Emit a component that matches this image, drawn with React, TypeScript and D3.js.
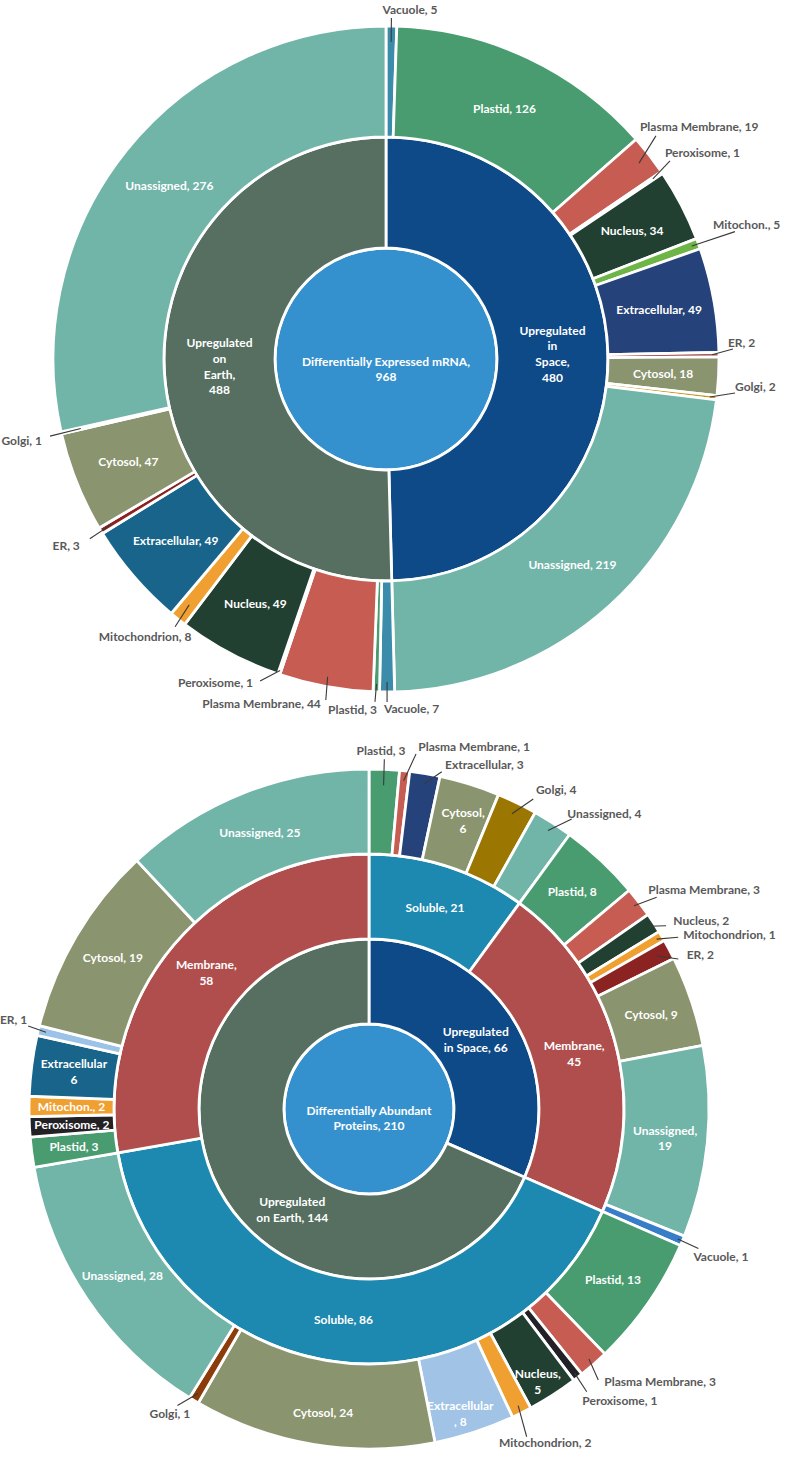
import React from "react";
import * as d3 from "d3";

// ================= Chart 1: Differentially Expressed mRNA =================
const mrnaRootName = "Differentially Expressed mRNA";
const mrnaRootTotal = 968;
const mrnaGroupNames = ["Upregulated in Space", "Upregulated on Earth"];
const mrnaGroupTotals = [480, 488];
const mrnaSpaceLocations = ["Vacuole", "Plastid", "Plasma Membrane", "Peroxisome", "Nucleus", "Mitochon.", "Extracellular", "ER", "Cytosol", "Golgi", "Unassigned"];
const mrnaSpaceCounts = [5, 126, 19, 1, 34, 5, 49, 2, 18, 2, 219];
const mrnaEarthLocations = ["Vacuole", "Plastid", "Plasma Membrane", "Peroxisome", "Nucleus", "Mitochondrion", "Extracellular", "ER", "Cytosol", "Golgi", "Unassigned"];
const mrnaEarthCounts = [7, 3, 44, 1, 49, 8, 49, 3, 47, 1, 276];

// ================= Chart 2: Differentially Abundant Proteins =================
const protRootName = "Differentially Abundant Proteins";
const protRootTotal = 210;
const protGroupNames = ["Upregulated in Space", "Upregulated on Earth"];
const protGroupTotals = [66, 144];
const protFractionNames = ["Soluble", "Membrane"];
const protSpaceFractionTotals = [21, 45];
const protEarthFractionTotals = [86, 58];
const protSpaceSolubleLocations = ["Plastid", "Plasma Membrane", "Extracellular", "Cytosol", "Golgi", "Unassigned"];
const protSpaceSolubleCounts = [3, 1, 3, 6, 4, 4];
const protSpaceMembraneLocations = ["Plastid", "Plasma Membrane", "Nucleus", "Mitochondrion", "ER", "Cytosol", "Unassigned", "Vacuole"];
const protSpaceMembraneCounts = [8, 3, 2, 1, 2, 9, 19, 1];
const protEarthSolubleLocations = ["Plastid", "Plasma Membrane", "Peroxisome", "Nucleus", "Mitochondrion", "Extracellular", "Cytosol", "Golgi", "Unassigned"];
const protEarthSolubleCounts = [13, 3, 1, 5, 2, 8, 24, 1, 28];
const protEarthMembraneLocations = ["Plastid", "Peroxisome", "Mitochon.", "Extracellular", "ER", "Cytosol", "Unassigned"];
const protEarthMembraneCounts = [3, 2, 2, 6, 1, 19, 25];

// ================= hierarchy construction =================
type TreeNode = { key: string; name: string; shown: number; count?: number; children?: TreeNode[] };

const leafNodes = (prefix: string, names: string[], counts: number[]): TreeNode[] =>
  names.map((n, i) => ({ key: `${prefix}/${n}`, name: n, shown: counts[i], count: counts[i] }));

const groupCodes = ["S", "E"];

const mrnaTree: TreeNode = {
  key: "mrna",
  name: mrnaRootName,
  shown: mrnaRootTotal,
  children: [
    { key: "mrna/S", name: mrnaGroupNames[0], shown: mrnaGroupTotals[0], children: leafNodes("mrna/S", mrnaSpaceLocations, mrnaSpaceCounts) },
    { key: "mrna/E", name: mrnaGroupNames[1], shown: mrnaGroupTotals[1], children: leafNodes("mrna/E", mrnaEarthLocations, mrnaEarthCounts) },
  ],
};

const protLeaves = [
  [
    [protSpaceSolubleLocations, protSpaceSolubleCounts],
    [protSpaceMembraneLocations, protSpaceMembraneCounts],
  ],
  [
    [protEarthSolubleLocations, protEarthSolubleCounts],
    [protEarthMembraneLocations, protEarthMembraneCounts],
  ],
] as [string[], number[]][][];
const protFractionTotals = [protSpaceFractionTotals, protEarthFractionTotals];

const protTree: TreeNode = {
  key: "prot",
  name: protRootName,
  shown: protRootTotal,
  children: protGroupNames.map((g, gi) => ({
    key: `prot/${groupCodes[gi]}`,
    name: g,
    shown: protGroupTotals[gi],
    children: protFractionNames.map((f, fi) => {
      const k = `prot/${groupCodes[gi]}/${f}`;
      const [locs, counts] = protLeaves[gi][fi];
      return { key: k, name: f, shown: protFractionTotals[gi][fi], children: leafNodes(k, locs, counts) };
    }),
  })),
};

// ================= styles =================
const nodeFill: Record<string, string> = {
  root: "#3591CD",
  "Upregulated in Space": "#0E4988",
  "Upregulated on Earth": "#566F60",
  Soluble: "#1D88B0",
  Membrane: "#B04E4E",
  Vacuole: "#3A8CAA",
  Plastid: "#489C6F",
  "Plasma Membrane": "#C65C52",
  Peroxisome: "#222126",
  Nucleus: "#224032",
  Mitochondrion: "#F0A030",
  "Mitochon.": "#F0A030",
  Extracellular: "#25437A",
  ER: "#8C2323",
  Cytosol: "#8A946E",
  Golgi: "#9B7600",
  Unassigned: "#71B4A8",
};
const fillOverride: Record<string, string> = {
  "mrna/S/Mitochon.": "#6EB446",
  "mrna/S/Golgi": "#C8961E",
  "mrna/E/Extracellular": "#18648A",
  "prot/S/Membrane/Vacuole": "#377DC8",
  "prot/E/Soluble/Extracellular": "#A0C3E6",
  "prot/E/Soluble/Golgi": "#8C3C0A",
  "prot/E/Membrane/ER": "#9CC2E8",
  "prot/E/Membrane/Extracellular": "#18648A",
};

type Wrap = "comma" | "words" | "first" | "two" | "pre" | "bare";
type Ext = { inset: number; lead: [number, number]; text: [number, number]; anchor: "start" | "middle" | "end" };
type Lay = { wrap?: Wrap; nudge?: [number, number]; ext?: Ext };

const labelLayout: Record<string, Lay> = {
  // chart 1
  mrna: { wrap: "comma", nudge: [0, 10] },
  "mrna/S": { wrap: "words", nudge: [0, -3] },
  "mrna/E": { wrap: "words", nudge: [0, 5] },
  "mrna/S/Vacuole": { ext: { inset: 16, lead: [0, -8], text: [18.6, -12.5], anchor: "middle" } },
  "mrna/S/Plasma Membrane": { ext: { inset: 13, lead: [6.6, -19.3], text: [-9.4, -23.8], anchor: "start" } },
  "mrna/S/Peroxisome": { ext: { inset: 11, lead: [8, -11.7], text: [3, -15.7], anchor: "start" } },
  "mrna/S/Mitochon.": { ext: { inset: 7, lead: [36.6, -12], text: [14.6, -14.7], anchor: "start" } },
  "mrna/S/ER": { ext: { inset: 7, lead: [14, -5.7], text: [9, -7.7], anchor: "start" } },
  "mrna/S/Golgi": { ext: { inset: 7, lead: [18.3, -4.9], text: [18.3, -6.9], anchor: "start" } },
  "mrna/E/Vacuole": { ext: { inset: 10, lead: [0, 10], text: [-3, 21], anchor: "start" } },
  "mrna/E/Plastid": { ext: { inset: 8, lead: [-1.3, 10], text: [0.7, 22], anchor: "end" } },
  "mrna/E/Plasma Membrane": { ext: { inset: 10, lead: [0, 13.5], text: [-5, 21.5], anchor: "end" } },
  "mrna/E/Peroxisome": { ext: { inset: 4, lead: [-18.7, 6.8], text: [-25.7, 12.8], anchor: "end" } },
  "mrna/E/Mitochondrion": { ext: { inset: 18, lead: [-2.8, 7.8], text: [-32.8, 22], anchor: "middle" } },
  "mrna/E/ER": { ext: { inset: 12, lead: [-10.9, 8], text: [-20.9, 19.7], anchor: "end" } },
  "mrna/E/Golgi": { ext: { inset: 20, lead: [-11.3, 3.2], text: [-19.3, 12.2], anchor: "end" } },
  // chart 2
  prot: { wrap: "two", nudge: [0, 9] },
  "prot/S": { wrap: "first" },
  "prot/E": { wrap: "first", nudge: [30, 31] },
  "prot/S/Membrane": { wrap: "comma" },
  "prot/E/Membrane": { wrap: "comma" },
  "prot/S/Soluble/Plastid": { ext: { inset: 16, lead: [0, -10], text: [-3.3, -14.3], anchor: "middle" } },
  "prot/S/Soluble/Plasma Membrane": { ext: { inset: 10, lead: [11.3, -16.9], text: [13.6, -19.6], anchor: "start" } },
  "prot/S/Soluble/Extracellular": { ext: { inset: 11, lead: [16.8, -1.9], text: [20.1, -4.6], anchor: "start" } },
  "prot/S/Soluble/Cytosol": { wrap: "comma", nudge: [6, -4] },
  "prot/S/Soluble/Golgi": { ext: { inset: 12, lead: [16.1, -4], text: [18.8, -9], anchor: "start" } },
  "prot/S/Soluble/Unassigned": { ext: { inset: 9, lead: [18.9, -4], text: [14.5, -5], anchor: "start" } },
  "prot/S/Membrane/Plasma Membrane": { ext: { inset: 6, lead: [17.8, -4.9], text: [9.4, -8.2], anchor: "start" } },
  "prot/S/Membrane/Nucleus": { ext: { inset: 6, lead: [12.4, 2.7], text: [19.7, 1.7], anchor: "start" } },
  "prot/S/Membrane/Mitochondrion": { ext: { inset: 6, lead: [16.5, 1.2], text: [21.5, 2.6], anchor: "start" } },
  "prot/S/Membrane/ER": { ext: { inset: 14, lead: [9.1, 9.6], text: [17.5, 9.6], anchor: "start" } },
  "prot/S/Membrane/Unassigned": { wrap: "comma" },
  "prot/S/Membrane/Vacuole": { ext: { inset: 5, lead: [16, 7.5], text: [11, 20], anchor: "start" } },
  "prot/E/Soluble/Plasma Membrane": { ext: { inset: 7, lead: [4.7, 15.7], text: [10.7, 21.4], anchor: "start" } },
  "prot/E/Soluble/Peroxisome": { ext: { inset: 5, lead: [8.9, 14.4], text: [4.5, 27.4], anchor: "start" } },
  "prot/E/Soluble/Nucleus": { wrap: "comma", nudge: [8, 22] },
  "prot/E/Soluble/Mitochondrion": { ext: { inset: 8, lead: [4.9, 24], text: [-22.8, 34], anchor: "start" } },
  "prot/E/Soluble/Extracellular": { wrap: "pre", nudge: [-1, 22] },
  "prot/E/Soluble/Cytosol": { nudge: [3, 10] },
  "prot/E/Soluble/Golgi": { ext: { inset: 8, lead: [-16.4, 5], text: [-24, 18], anchor: "middle" } },
  "prot/E/Membrane/Extracellular": { wrap: "bare" },
  "prot/E/Membrane/ER": { ext: { inset: 8, lead: [-10, -4.6], text: [-11, -7], anchor: "end" } },
};

const FONT = "Lato, 'Open Sans', 'DejaVu Sans', sans-serif";
const INNER_TEXT = "#FFFFFF";
const OUTER_TEXT = "#595959";
const LEADER = "#3A3A3A";
const LINE_H = 15.8;

function labelLines(name: string, v: number, wrap?: Wrap): string[] {
  const words = name.split(" ");
  switch (wrap) {
    case "comma":
      return [`${name},`, `${v}`];
    case "words":
      return [...words.slice(0, -1), `${words[words.length - 1]},`, `${v}`];
    case "first":
      return [words[0], `${words.slice(1).join(" ")}, ${v}`];
    case "two":
      return [words.slice(0, 2).join(" "), `${words.slice(2).join(" ")}, ${v}`];
    case "pre":
      return [name, `, ${v}`];
    case "bare":
      return [name, `${v}`];
    default:
      return [`${name}, ${v}`];
  }
}

type RNode = d3.HierarchyRectangularNode<TreeNode>;

function fillFor(d: RNode): string {
  if (d.depth === 0) return nodeFill.root;
  return fillOverride[d.data.key] ?? nodeFill[d.data.name] ?? "#999";
}

function Sunburst({ tree, cx, cy, radius, levels }: { tree: TreeNode; cx: number; cy: number; radius: number; levels: number }) {
  const root = d3.hierarchy<TreeNode>(tree, (d) => d.children).sum((d) => (d.children ? 0 : d.count ?? 0));
  const laid = d3.partition<TreeNode>().size([2 * Math.PI, levels])(root);
  const rScale = d3.scaleLinear().domain([0, levels]).range([0, radius]);
  const arc = d3
    .arc<RNode>()
    .startAngle((d) => d.x0)
    .endAngle((d) => d.x1)
    .innerRadius((d) => rScale(d.y0))
    .outerRadius((d) => rScale(d.y1));
  const nodes = laid.descendants();
  const polar = (a: number, rr: number): [number, number] => [rr * Math.sin(a), -rr * Math.cos(a)];

  return (
    <g transform={`translate(${cx},${cy})`}>
      {nodes.map((d) => (
        <path key={`p-${d.data.key}`} d={arc(d) ?? ""} fill={fillFor(d)} stroke="#FFFFFF" strokeWidth={2.8} strokeLinejoin="round" />
      ))}
      {nodes.map((d) => {
        const lay = labelLayout[d.data.key] || {};
        const lines = labelLines(d.data.name, d.data.shown, lay.wrap);
        if (lay.ext) {
          const mid = (d.x0 + d.x1) / 2;
          const outer = rScale(d.y1);
          const [ex, ey] = polar(mid, outer);
          const [ix, iy] = polar(mid, outer - lay.ext.inset);
          return (
            <g key={`l-${d.data.key}`}>
              <line x1={ix} y1={iy} x2={ex + lay.ext.lead[0]} y2={ey + lay.ext.lead[1]} stroke={LEADER} strokeWidth={1.1} />
              <text
                x={ex + lay.ext.text[0]}
                y={ey + lay.ext.text[1]}
                textAnchor={lay.ext.anchor}
                fill={OUTER_TEXT}
                fontFamily={FONT}
                fontWeight={700}
                fontSize={12}
              >
                {lines[0]}
              </text>
            </g>
          );
        }
        const [px, py] = d.depth === 0 ? [0, 0] : arc.centroid(d);
        const nx = px + (lay.nudge ? lay.nudge[0] : 0);
        const ny = py + (lay.nudge ? lay.nudge[1] : 0);
        const n = lines.length;
        return (
          <g key={`l-${d.data.key}`}>
            {lines.map((t, i) => (
              <text
                key={i}
                x={nx}
                y={ny + (i - (n - 1) / 2) * LINE_H}
                textAnchor="middle"
                dominantBaseline="central"
                fill={INNER_TEXT}
                fontFamily={FONT}
                fontWeight={700}
                fontSize={12}
              >
                {t}
              </text>
            ))}
          </g>
        );
      })}
    </g>
  );
}

export default function App() {
  return (
    <svg
      width={787}
      height={1458}
      viewBox="0 0 787 1458"
      style={{ position: "absolute", left: 0, top: 0, background: "#FFFFFF" }}
    >
      <rect x={0} y={0} width={787} height={1458} fill="#FFFFFF" />
      <Sunburst tree={mrnaTree} cx={386} cy={359} radius={333} levels={3} />
      <Sunburst tree={protTree} cx={369} cy={1109} radius={340} levels={4} />
    </svg>
  );
}
